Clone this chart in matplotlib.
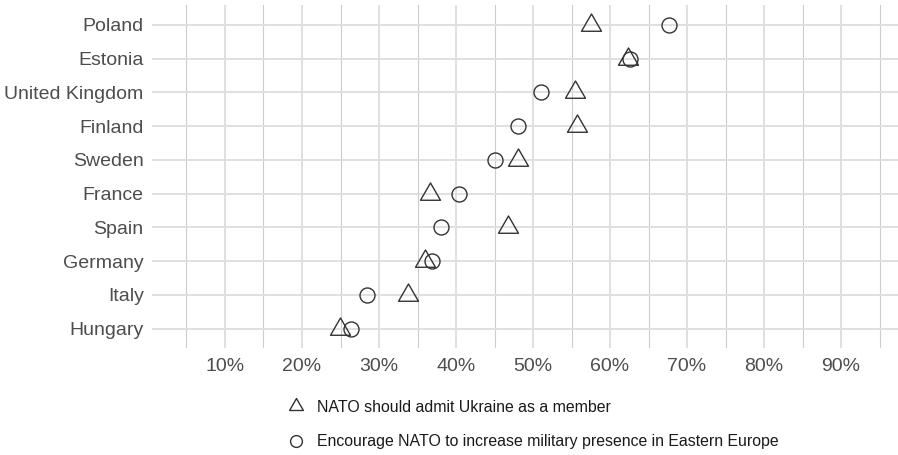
import matplotlib.pyplot as plt
from matplotlib.path import Path
from matplotlib.lines import Line2D
import numpy as np

plt.rcParams['font.family'] = ['Liberation Sans', 'DejaVu Sans']

countries = ['Poland', 'Estonia', 'United Kingdom', 'Finland', 'Sweden',
             'France', 'Spain', 'Germany', 'Italy', 'Hungary']
admit_ukraine = [57.5, 62.4, 55.4, 55.7, 48.1, 36.6, 46.7, 36.0, 33.8, 24.9]
nato_presence = [67.7, 62.6, 51.0, 48.0, 45.0, 40.4, 38.0, 36.9, 28.5, 26.3]
label_admit = 'NATO should admit Ukraine as a member'
label_presence = 'Encourage NATO to increase military presence in Eastern Europe'

# equilateral triangle like ggplot shape 2
tri = Path([(0, 1), (-0.866, -0.5), (0.866, -0.5), (0, 1)],
           [Path.MOVETO, Path.LINETO, Path.LINETO, Path.CLOSEPOLY])

y = np.arange(len(countries))[::-1]

fig = plt.figure(figsize=(8.98, 4.55), dpi=100)
ax = fig.add_axes([152 / 898, 107 / 455, 746 / 898, 343 / 455])

ax.plot(admit_ukraine, y, linestyle='none', marker=tri, markersize=16.6,
        markerfacecolor='none', markeredgecolor='#333333', markeredgewidth=1.0)
ax.plot(nato_presence, y, linestyle='none', marker='o', markersize=10.8,
        markerfacecolor='none', markeredgecolor='#333333', markeredgewidth=1.0)

ax.set_xlim(0.52, 97.4)
ax.set_ylim(-0.57, 9.59)
ax.set_yticks(y)
ax.set_yticklabels(countries)
xt = np.arange(10, 100, 10)
ax.set_xticks(xt)
ax.set_xticklabels([f'{v}%' for v in xt])
ax.set_xticks(np.arange(5, 100, 10), minor=True)

ax.tick_params(axis='both', which='both', length=0, labelsize=14, labelcolor='#4d4d4d')
ax.tick_params(axis='y', pad=6)
ax.tick_params(axis='x', pad=7)

ax.grid(True, which='major', color='#e0e0e0', linewidth=1.4)
ax.grid(True, which='minor', axis='x', color='#cccccc', linewidth=0.8)
ax.set_axisbelow(True)
for s in ax.spines.values():
    s.set_visible(False)

handles = [
    Line2D([], [], linestyle='none', marker=tri, markersize=11.5,
           markerfacecolor='none', markeredgecolor='#333333', markeredgewidth=1.0),
    Line2D([], [], linestyle='none', marker='o', markersize=8.5,
           markerfacecolor='none', markeredgecolor='#333333', markeredgewidth=1.0),
]
fig.legend(handles, [label_admit, label_presence], loc='upper left',
           bbox_to_anchor=(288 / 898, 1 - 400 / 455), frameon=False,
           fontsize=11.4, labelcolor='#1a1a1a', handlelength=1.0,
           handletextpad=0.85, labelspacing=1.22, borderaxespad=0, borderpad=0)

fig.savefig('out.png', dpi=100)
